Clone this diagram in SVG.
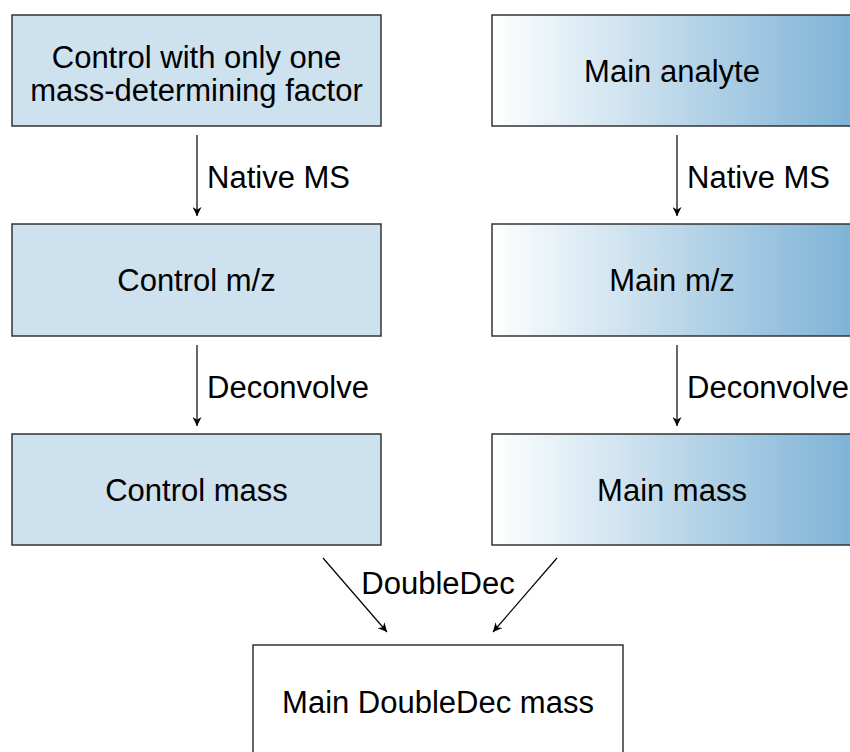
<svg xmlns="http://www.w3.org/2000/svg" width="850" height="752" viewBox="0 0 850 752">
  <defs>
    <linearGradient id="grad" x1="0" y1="0" x2="1" y2="0">
      <stop offset="0" stop-color="#ffffff"/>
      <stop offset="0.06" stop-color="#f6fafc"/>
      <stop offset="1" stop-color="#7bb1d5"/>
    </linearGradient>
    <marker id="arrow" viewBox="0 0 10 10" refX="10" refY="5" markerWidth="9" markerHeight="9" markerUnits="userSpaceOnUse" orient="auto">
      <path d="M0,0 L10,5 L0,10 L3,5 Z" fill="#000"/>
    </marker>
  </defs>
  <style>
    .box { stroke: #333; stroke-width: 1.5; }
    .ctl { fill: #cde1ef; }
    .main { fill: url(#grad); }
    .plain { fill: #fff; }
    text { font-family: "Liberation Sans", Arial, sans-serif; font-size: 31px; fill: #000; }
    .c { text-anchor: middle; }
    .edge { stroke: #000; stroke-width: 1.2; fill: none; marker-end: url(#arrow); }
  </style>
  <rect width="850" height="752" fill="#fff"/>

  <g id="control">
    <rect class="box ctl" x="12" y="15" width="369" height="111"/>
    <text class="c" x="196.5" y="68">Control with only one</text>
    <text class="c" x="196.5" y="101">mass-determining factor</text>
  </g>
  <g id="main-analyte">
    <rect class="box main" x="492" y="15" width="369" height="111"/>
    <text class="c" x="672" y="82">Main analyte</text>
  </g>
  <g id="control-mz">
    <rect class="box ctl" x="12" y="224" width="369" height="112"/>
    <text class="c" x="196.5" y="291">Control m/z</text>
  </g>
  <g id="main-mz">
    <rect class="box main" x="492" y="224" width="369" height="112"/>
    <text class="c" x="672" y="291">Main m/z</text>
  </g>
  <g id="control-mass">
    <rect class="box ctl" x="12" y="434" width="369" height="111"/>
    <text class="c" x="196.5" y="501">Control mass</text>
  </g>
  <g id="main-mass">
    <rect class="box main" x="492" y="434" width="369" height="111"/>
    <text class="c" x="672" y="501">Main mass</text>
  </g>
  <g id="doubledec-mass">
    <rect class="box plain" x="253" y="645" width="370" height="130"/>
    <text class="c" x="438" y="713">Main DoubleDec mass</text>
  </g>

  <g id="connectors">
    <line class="edge" x1="197" y1="135" x2="197" y2="216"/>
    <line class="edge" x1="677" y1="135" x2="677" y2="216"/>
    <line class="edge" x1="197" y1="345" x2="197" y2="426"/>
    <line class="edge" x1="677" y1="345" x2="677" y2="426"/>
    <line class="edge" x1="323" y1="558" x2="387" y2="632"/>
    <line class="edge" x1="557" y1="558" x2="493" y2="632"/>
    <text x="207" y="188">Native MS</text>
    <text x="687" y="188">Native MS</text>
    <text x="207" y="398">Deconvolve</text>
    <text x="687" y="398">Deconvolve</text>
    <text class="c" x="438" y="594">DoubleDec</text>
  </g>
</svg>
